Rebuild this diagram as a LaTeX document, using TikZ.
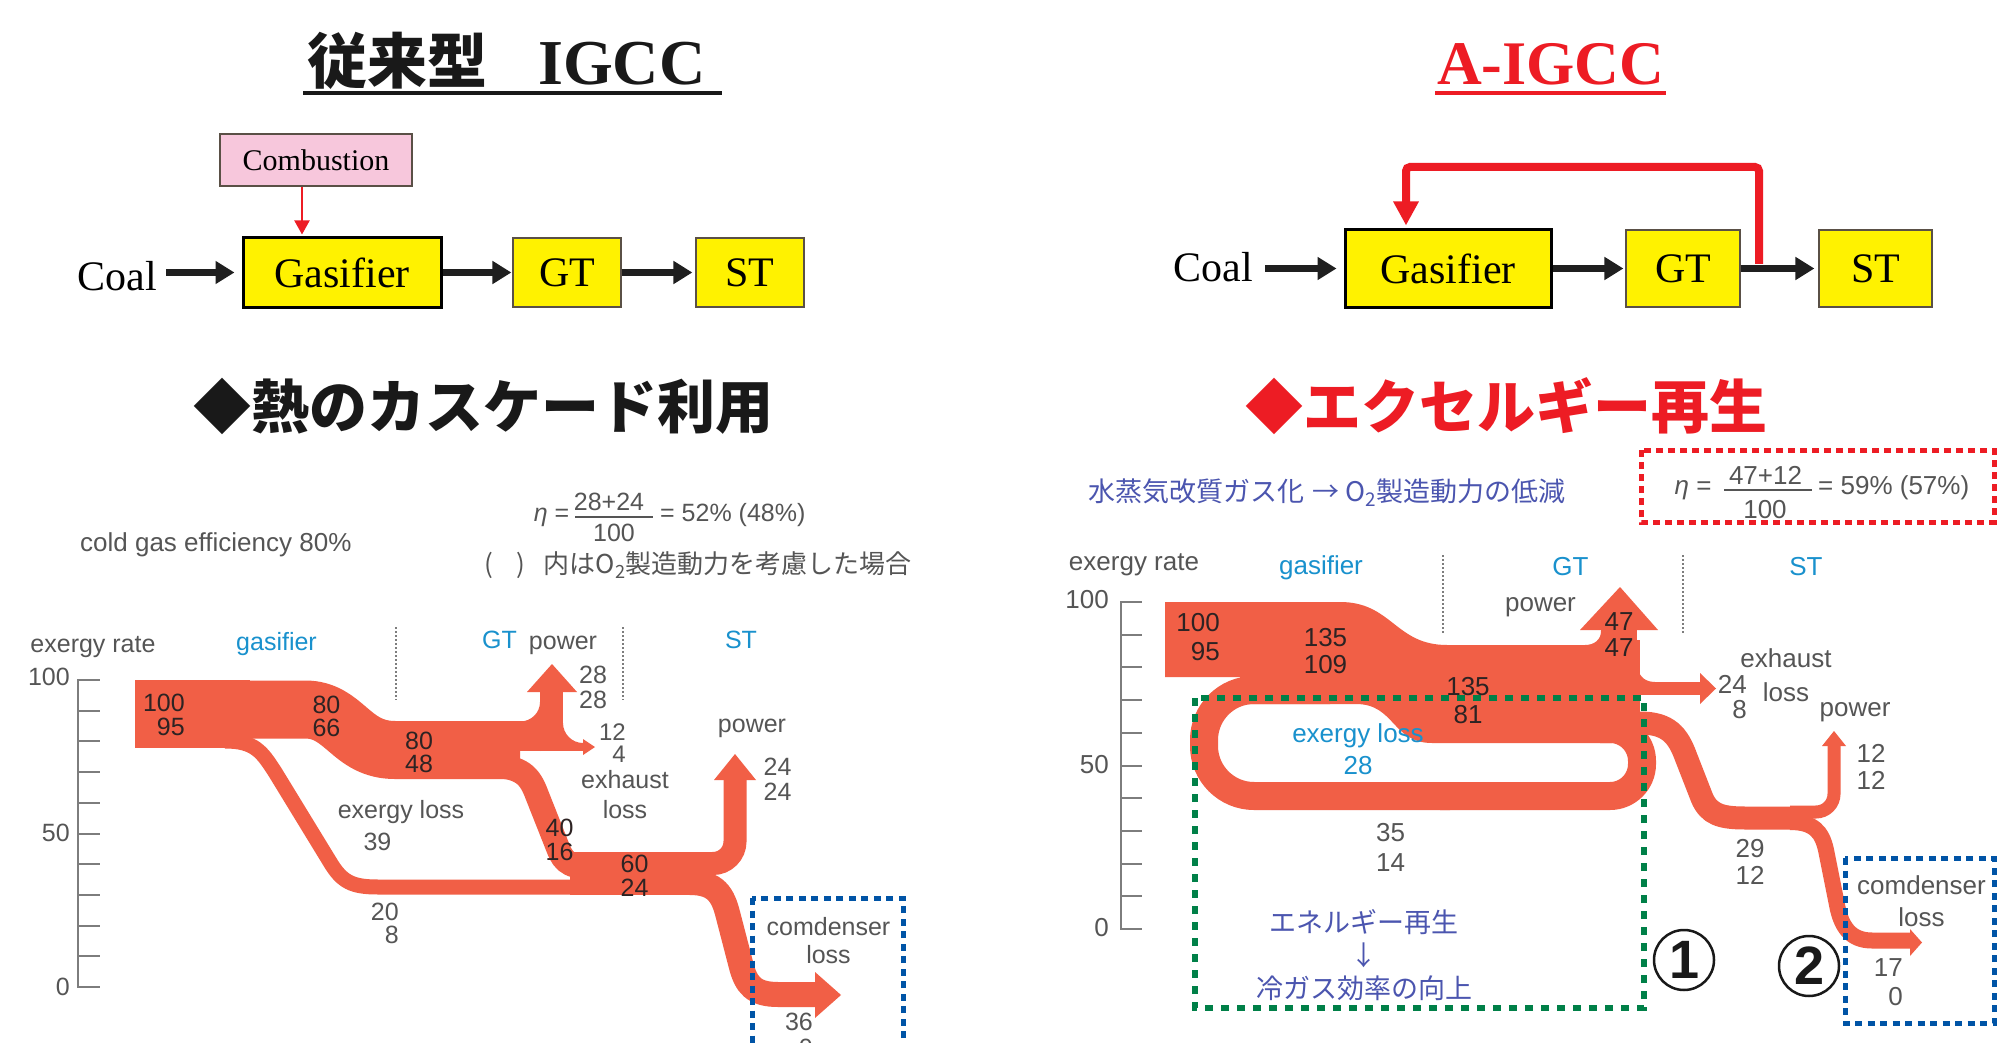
\documentclass[tikz,border=0pt]{standalone}
\usepackage{fontspec}
\setmainfont{Liberation Serif}
\newfontfamily\lsans{Liberation Sans}
\newfontfamily\jp{Noto Sans CJK JP}
\usetikzlibrary{arrows.meta,calc}
\definecolor{fl}{RGB}{241,95,70}
\definecolor{numdark}{RGB}{45,35,35}
\definecolor{txtgray}{RGB}{85,85,85}
\definecolor{lblue}{RGB}{25,145,205}
\definecolor{jpblue}{RGB}{75,85,175}
\definecolor{boxyellow}{RGB}{255,242,0}
\definecolor{boxpink}{RGB}{247,199,220}
\definecolor{myred}{RGB}{237,28,36}
\definecolor{mygreen}{RGB}{0,128,72}
\definecolor{myblue}{RGB}{0,84,166}
\definecolor{axisgray}{RGB}{125,125,125}
\definecolor{edge}{RGB}{90,80,70}
\newcommand\fsz[2]{\lsans\fontsize{#1}{#2}\selectfont}
\begin{document}
\begin{tikzpicture}[x=1pt,y=-1pt,
  tL/.style={inner sep=0, align=center, text=txtgray, font=\fsz{25}{24}},
  tR/.style={inner sep=0, align=center, text=txtgray, font=\fsz{26}{28}},
  dk/.style={text=numdark},
  bl/.style={text=lblue},
  yb/.style={draw=edge, line width=1.2pt, fill=boxyellow, inner sep=0, font=\fontsize{42}{42}\selectfont},
  bigarrow/.style={line width=7pt, draw=black!88, -{Triangle[length=19pt,width=22pt]}},
  axisline/.style={draw=axisgray, line width=2pt},
  sepline/.style={draw=axisgray, line width=1.4pt, dash pattern=on 2pt off 2pt},
  greendot/.style={draw=mygreen, line width=6pt, dash pattern=on 8pt off 8pt},
  bluedot/.style={draw=myblue, line width=5pt, dash pattern=on 7pt off 5.5pt},
  reddot/.style={draw=myred, line width=5pt, dash pattern=on 7pt off 5pt}]
\useasboundingbox (0,0) rectangle (1998,1043);
\fill[white] (0,0) rectangle (1998,1043);

% ---------- titles ----------
\node[anchor=base west, inner sep=0, font=\jp\bfseries\fontsize{60}{60}\selectfont, text=black!90] (ttla) at (307,84) {従来型};
\node[anchor=base west, inner sep=0, font=\bfseries\fontsize{64}{64}\selectfont, text=black!90] (ttlb) at (538,85) {IGCC};
\draw[line width=3.5pt, black!90] (303,93) -- (722,93);
\node[anchor=base west, inner sep=0, font=\bfseries\fontsize{62}{62}\selectfont, text=myred] (ttlc) at (1437,85) {A-IGCC};
\draw[line width=3.5pt, myred] (1435,93) -- (1666,93);

\node[anchor=base west, inner sep=0, font=\jp\bfseries\fontsize{58}{58}\selectfont, text=black!90] (hda) at (193,428) {◆熱のカスケード利用};
\node[anchor=base west, inner sep=0, font=\jp\bfseries\fontsize{58}{58}\selectfont, text=myred] (hdb) at (1245,428) {◆エクセルギー再生};

% ---------- left block diagram ----------
\node[yb, fill=boxpink, minimum width=192pt, minimum height=52pt, font=\fontsize{30}{30}\selectfont] (comb) at (316,160) {Combustion};
\node[yb, draw=black, line width=3pt, minimum width=198pt, minimum height=69pt] (gasa) at (342,272.5) {Gasifier};
\node[yb, minimum width=108pt, minimum height=69pt] (gta) at (567,272.5) {GT};
\node[yb, minimum width=108pt, minimum height=69pt] (sta) at (750,272.5) {ST};
\node[inner sep=0, font=\fontsize{42}{42}\selectfont] (coala) at (117.5,276) {Coal};
\draw[bigarrow, shorten <=9pt, shorten >=7pt] (coala.east |- gasa.west) -- (gasa.west);
\draw[bigarrow, shorten >=1pt] (gasa.east) -- (gta.west);
\draw[bigarrow, shorten >=3pt] (gta.east) -- (sta.west);
\draw[myred, line width=2pt, -{Triangle[length=14pt,width=15pt]}, shorten >=2pt] ([xshift=-14pt]comb.south) -- ([xshift=-14pt]comb.south |- gasa.north);

% ---------- right block diagram ----------
\node[inner sep=0, font=\fontsize{42}{42}\selectfont] (coalb) at (1213.5,267.5) {Coal};
\node[yb, draw=black, line width=3pt, minimum width=206pt, minimum height=77pt] (gasb) at (1448,268.5) {Gasifier};
\node[yb, minimum width=114pt, minimum height=77pt] (gtb) at (1683,268.5) {GT};
\node[yb, minimum width=113pt, minimum height=77pt] (stb) at (1875.5,268.5) {ST};
\coordinate (fbs) at (1759,264);
\draw[myred, line width=8pt, rounded corners=4pt, -{Triangle[length=24pt,width=24pt]}, shorten >=3pt] (fbs) -- ++(0,-97) -| ([xshift=-42pt]gasb.north);
\draw[bigarrow, shorten <=12pt, shorten >=7pt] (coalb.east |- gasb.west) -- (gasb.west);
\draw[bigarrow, shorten >=2pt] (gasb.east) -- (gtb.west);
\draw[bigarrow, shorten >=4pt] (gtb.east) -- (stb.west);

% ---------- left chart ----------
\node[tL, font=\fsz{26}{26}, anchor=west] (cge) at (80,545) {cold gas efficiency 80\%};
\node[tL] (etaa) at (551.5,517) {\textit{η} =};
\node[tL] (fna) at (609,502) {28+24};
\draw[txtgray, line width=1.5pt] (575,517) -- (653,517);
\node[tL] (fda) at (614,533) {100};
\node[tL, anchor=west] (fva) at (660,515) {= 52\% (48\%)};
\node[anchor=west, inner sep=0, font=\jp\fontsize{26}{26}\selectfont, text=txtgray] (notea) at (484,565) {(\hspace{24pt})\hspace{18pt}内はO\textsubscript{2}製造動力を考慮した場合};

\node[tL] (era) at (93,647) {exergy rate};
\node[tL, bl] (gsa) at (276.5,644) {gasifier};
\node[tL, bl] (gtla) at (499.5,640) {GT};
\node[tL, bl] (stla) at (741,640) {ST};
\draw[sepline] (396,627) -- (396,700);
\draw[sepline] (623,627) -- (623,700);

\draw[axisline] (78,680) -- (78,987);
\foreach \v in {0,...,10} \draw[axisline] (77,987-30.7*\v) -- (100,987-30.7*\v);
\node[tL, anchor=east] (a100a) at (70,677) {100};
\node[tL, anchor=east] (a50a) at (70,833) {50};
\node[tL, anchor=east] (a0a) at (70,987) {0};

% flows left
\fill[fl] (135,680) rectangle (250,748);
\draw[fl, line width=58pt] (200,709.5) -- (305,709.5) .. controls (345,709.5) and (350,750) .. (395,750) -- (520,750);
\draw[fl, line width=15pt] (225,741) .. controls (255,741) and (262,752) .. (275,772) -- (330,862) .. controls (342,882) and (352,887) .. (378,887) -- (600,887);
\draw[fl, line width=24pt] (490,766) .. controls (522,766) and (530,776) .. (537,795) -- (558,848) .. controls (564,864) and (572,868) .. (598,868);
\fill[fl] (515,721) rectangle (563,751);
\draw[fl, line width=23pt] (551.5,751) -- (551.5,690);
\fill[fl] (520,721.5) .. controls (531,721.5) and (540,713) .. (540,702) -- (540,722) -- cycle;
\fill[fl] (563,723) .. controls (563,734) and (572,743) .. (583,743) -- (563,743) -- cycle;
\fill[fl] (527,692) -- (577,692) -- (552,664) -- cycle;
\draw[fl, line width=8pt] (550,747) -- (585,747);
\fill[fl] (583,739) -- (583,755) -- (595,747) -- cycle;
\fill[fl] (570,852) rectangle (712,895);
\draw[fl, line width=23pt, rounded corners=22pt] (680,863.5) -- (735,863.5) -- (735,778);
\fill[fl] (714,780) -- (756,780) -- (735,754) -- cycle;
\draw[fl, line width=25pt] (690,882.5) .. controls (716,882.5) and (723,895) .. (728,915) -- (741,965) .. controls (746,985) and (754,994.5) .. (778,994.5) -- (818,994.5);
\fill[fl] (815,972) -- (815,1018) -- (841,995) -- cycle;

% labels left
\node[tL, dk, align=right, anchor=east] (nla) at (185,715) {100\\95};
\node[tL, dk, font=\fsz{25}{23}] (nlb) at (326.5,716.5) {80\\66};
\node[tL, dk, font=\fsz{25}{23}] (nlc) at (419,752) {80\\48};
\node[tL] (ela) at (401,812) {exergy loss};
\node[tL] (nld) at (377.5,842) {39};
\node[tL, font=\fsz{25}{23}, align=right, anchor=east] (nle) at (399,923.5) {20\\8};
\node[tL, dk] (nlf) at (559.5,840) {40\\16};
\node[tL, dk] (nlg) at (634.5,876) {60\\24};
\node[tL, font=\fsz{24}{22}, align=right, anchor=east] (nlh) at (626,743) {12\\4};
\node[tL, font=\fsz{25}{30}] (exa) at (625,795) {exhaust\\loss};
\node[tL] (pwa) at (563,645) {power};
\node[tL, font=\fsz{25}{25}] (nli) at (593,687.5) {28\\28};
\node[tL] (pwb) at (752,728) {power};
\node[tL, font=\fsz{25}{25}] (nlj) at (777.5,779.5) {24\\24};
\node[tL, font=\fsz{25}{28}] (cda) at (828.5,941) {comdenser\\loss};
\node[tL, font=\fsz{25}{26}, align=right, anchor=east] (nlk) at (813,1035) {36\\0};
\draw[bluedot] (752,898) rectangle (903,1080);

% ---------- right chart ----------
\node[anchor=west, inner sep=0, font=\jp\fontsize{27}{27}\selectfont, text=jpblue] (jpa) at (1088,493) {水蒸気改質ガス化\hspace{8pt}→\hspace{6pt}O\textsubscript{2}製造動力の低減};
\draw[reddot] (1641,450) rectangle (1994,522);
\node[tR] (etab) at (1693,490) {\textit{η} =};
\node[tR] (fnb) at (1765.5,475) {47+12};
\draw[txtgray, line width=1.5pt] (1724,490) -- (1812,490);
\node[tR] (fdb) at (1765,510) {100};
\node[tR, anchor=west] (fvb) at (1818,488) {= 59\% (57\%)};

\node[tR] (erb) at (1134,565) {exergy rate};
\node[tR, bl] (gsb) at (1321,568) {gasifier};
\node[tR, bl] (gtlb) at (1570.5,567) {GT};
\node[tR, bl] (stlb) at (1806,567) {ST};
\draw[sepline] (1443,555) -- (1443,633);
\draw[sepline] (1683,555) -- (1683,633);

\draw[axisline] (1121,602) -- (1121,929);
\foreach \v in {0,...,10} \draw[axisline] (1120,929-32.7*\v) -- (1142,929-32.7*\v);
\node[tR, anchor=east] (a100b) at (1109,600) {100};
\node[tR, anchor=east] (a50b) at (1109,765) {50};
\node[tR, anchor=east] (a0b) at (1109,928) {0};

% flows right
\fill[fl] (1165,602) rectangle (1250,677);
\fill[fl] (1165,602) -- (1340,602) .. controls (1392,602) and (1395,645) .. (1447,645) -- (1612,645) -- (1612,743) -- (1432,743) .. controls (1392,743) and (1395,704) .. (1356,704) -- (1240,704) -- (1240,677) -- (1165,677) -- cycle;
\draw[fl, line width=28pt, rounded corners=50pt] (1330,690) -- (1204,690) -- (1204,796) -- (1450,796);
\draw[fl, line width=28pt, rounded corners=32pt] (1440,796) -- (1642,796) -- (1642,729) -- (1600,729);
\fill[fl] (1600,640) rectangle (1640,715);
\draw[fl, line width=23pt] (1605,723) -- (1640,723) .. controls (1668,723) and (1678,735) .. (1686,757) -- (1702,798) .. controls (1709,814) and (1720,818) .. (1745,818) -- (1805,818);
\draw[fl, line width=13pt] (1610,688.5) -- (1702,688.5);
\fill[fl] (1700,673) -- (1700,704) -- (1716,688.5) -- cycle;
\draw[fl, line width=36pt] (1619,680) -- (1619,628);
\fill[fl] (1580,630) -- (1658,630) -- (1620,587) -- cycle;
\fill[fl] (1637,662) .. controls (1637,674) and (1643,682) .. (1655,682) -- (1637,682) -- cycle;
\fill[fl] (1585,645) .. controls (1594,645) and (1601,640) .. (1601,631) -- (1601,645) -- cycle;
\draw[fl, line width=13pt, rounded corners=18pt] (1790,812) -- (1834,812) -- (1834,744);
\fill[fl] (1822,746) -- (1846,746) -- (1834,731) -- cycle;
\draw[fl, line width=16pt] (1790,822) .. controls (1814,822) and (1822,832) .. (1826,850) -- (1837,905) .. controls (1841,926) and (1850,940.5) .. (1872,940.5) -- (1912,940.5);
\fill[fl] (1910,929) -- (1910,956) -- (1922,942.5) -- cycle;

% labels right
\node[tR, dk, font=\fsz{26}{29}, align=right, anchor=east] (nra) at (1220,637.5) {100\\95};
\node[tR, dk, font=\fsz{26}{27}] (nrb) at (1325.5,651.5) {135\\109};
\node[tR, dk] (nrc) at (1468,701) {135\\81};
\node[tR] (pwc) at (1540.5,607) {power};
\node[tR, dk, font=\fsz{26}{26}] (nrd) at (1619,635) {47\\47};
\node[tR, font=\fsz{26}{34}] (exb) at (1786,675) {exhaust\\loss};
\node[tR, font=\fsz{26}{25}, align=right, anchor=east] (nre) at (1747,697.5) {24\\8};
\node[tR] (pwd) at (1855,712) {power};
\node[tR, font=\fsz{26}{27}] (nrf) at (1871,766.5) {12\\12};
\node[tR, font=\fsz{26}{27}] (nrg) at (1750,861.5) {29\\12};
\node[tR, bl, font=\fsz{26}{32}] (elb) at (1358,749) {exergy loss\\28};
\node[tR, font=\fsz{26}{30}] (nrh) at (1390.5,847) {35\\14};
\node[inner sep=0, align=center, font=\jp\fontsize{27}{33}\selectfont, text=jpblue] (jpb) at (1364,955) {エネルギー再生\\↓\\冷ガス効率の向上};
\node[tR, font=\fsz{26}{32}] (cdb) at (1921.5,901) {comdenser\\loss};
\node[tR, font=\fsz{26}{29}, align=right, anchor=east] (nri) at (1903,982.5) {17\\0};
\draw[greendot] (1195,698) rectangle (1644,1008);
\draw[bluedot] (1845,858) rectangle (1994,1023);
\node[circle, draw=black!90, line width=2.5pt, minimum size=60pt, inner sep=0, font=\lsans\bfseries\fontsize{54}{54}\selectfont, text=black!90] (cia) at (1684,960) {1};
\node[circle, draw=black!90, line width=2.5pt, minimum size=60pt, inner sep=0, font=\lsans\bfseries\fontsize{54}{54}\selectfont, text=black!90] (cib) at (1809,966) {2};
\end{tikzpicture}
\end{document}
